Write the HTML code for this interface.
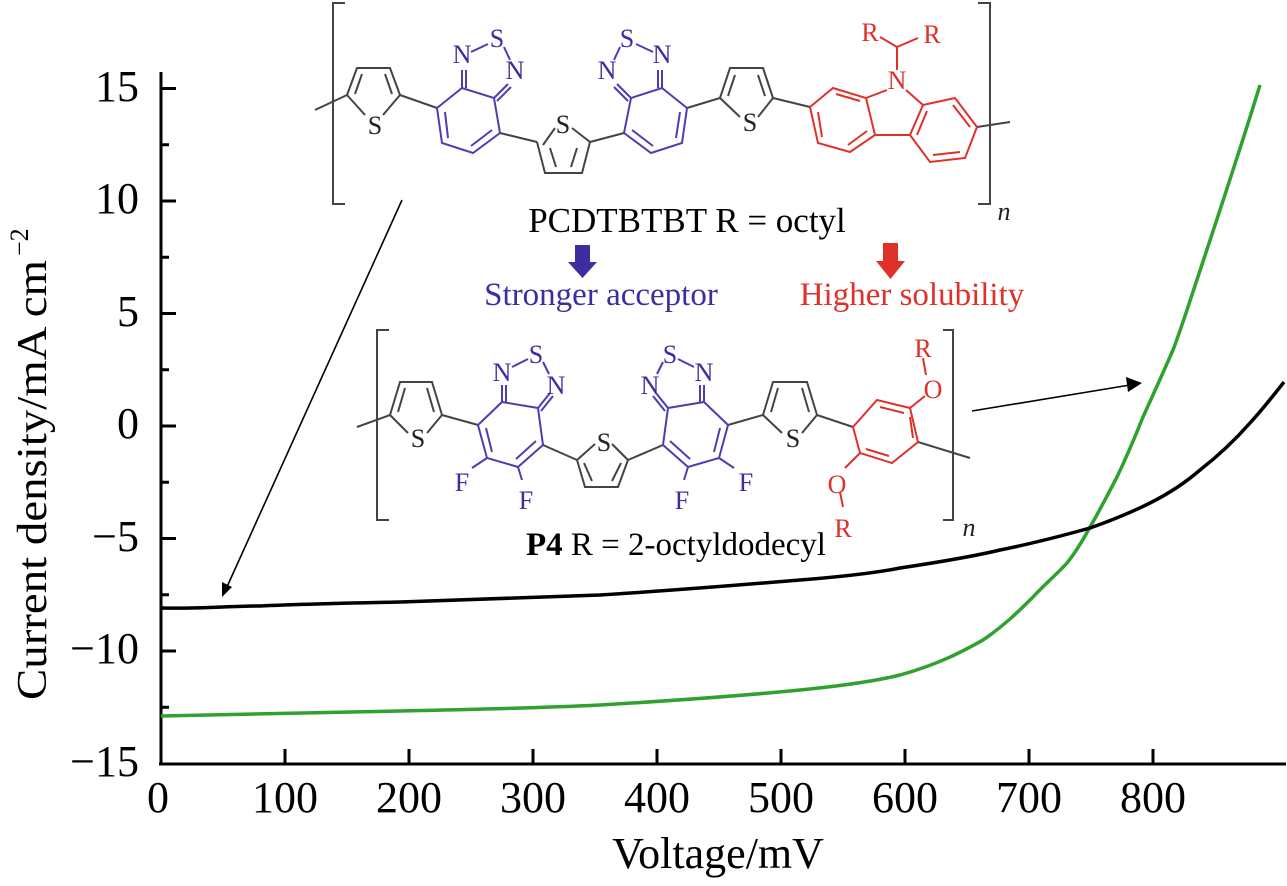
<!DOCTYPE html>
<html><head><meta charset="utf-8"><style>
html,body{margin:0;padding:0;background:#fff;}
svg{display:block;font-family:"Liberation Serif",serif;}
</style></head><body>
<svg width="1287" height="886" viewBox="0 0 1287 886" xmlns="http://www.w3.org/2000/svg">
<g stroke="#000" stroke-width="3" fill="none">
<line x1="161" y1="72" x2="161" y2="765"/>
<line x1="159" y1="764" x2="1286" y2="764"/>
<line x1="161" y1="88.5" x2="176" y2="88.5"/>
<line x1="161" y1="201" x2="176" y2="201"/>
<line x1="161" y1="313.5" x2="176" y2="313.5"/>
<line x1="161" y1="426" x2="176" y2="426"/>
<line x1="161" y1="538.5" x2="176" y2="538.5"/>
<line x1="161" y1="651" x2="176" y2="651"/>
<line x1="161" y1="144.75" x2="169" y2="144.75"/>
<line x1="161" y1="257.25" x2="169" y2="257.25"/>
<line x1="161" y1="369.75" x2="169" y2="369.75"/>
<line x1="161" y1="482.25" x2="169" y2="482.25"/>
<line x1="161" y1="594.75" x2="169" y2="594.75"/>
<line x1="161" y1="707.25" x2="169" y2="707.25"/>
<line x1="285" y1="764" x2="285" y2="749"/>
<line x1="409" y1="764" x2="409" y2="749"/>
<line x1="533" y1="764" x2="533" y2="749"/>
<line x1="657" y1="764" x2="657" y2="749"/>
<line x1="781" y1="764" x2="781" y2="749"/>
<line x1="905" y1="764" x2="905" y2="749"/>
<line x1="1029" y1="764" x2="1029" y2="749"/>
<line x1="1153" y1="764" x2="1153" y2="749"/>
</g>
<g font-size="44" fill="#000" text-anchor="end">
<text x="139" y="101">15</text>
<text x="139" y="213">10</text>
<text x="139" y="326">5</text>
<text x="139" y="438">0</text>
<text x="139" y="551">−5</text>
<text x="139" y="663">−10</text>
<text x="139" y="776">−15</text>
</g>
<g font-size="44" fill="#000" text-anchor="middle">
<text x="158" y="812">0</text>
<text x="285" y="812">100</text>
<text x="409" y="812">200</text>
<text x="533" y="812">300</text>
<text x="657" y="812">400</text>
<text x="781" y="812">500</text>
<text x="905" y="812">600</text>
<text x="1029" y="812">700</text>
<text x="1153" y="812">800</text>
<text x="718" y="868" font-size="44">Voltage/mV</text>
</g>
<g transform="translate(46,418) rotate(-90)">
<text x="-282" y="0" font-size="42" textLength="440" lengthAdjust="spacingAndGlyphs">Current density/mA cm</text>
<text x="162" y="-18" font-size="26">−2</text>
</g>

<path d="M161,716 C260,714 350,712 400,711 C500,709 560,707 600,705 C700,699 760,694 800,690 C850,685 880,680 900,675 C940,664 965,650 983,640 C1005,625 1020,610 1033,597 C1045,584 1057,574 1067,563 C1075,553 1083,540 1090,527 C1100,510 1108,494 1117,477 C1126,458 1135,437 1143,417 C1153,395 1163,373 1173,350 C1178,337 1183,322 1188,307 C1210,240 1237,160 1260,85" stroke="#2ea12e" stroke-width="3.5" fill="none"/>
<path d="M161,608 C200,609 230,606 260,606 C300,604 350,603 400,602 C470,600 540,597 600,595 C680,590 740,585 800,580 C850,576 880,572 900,568 C940,562 975,556 1000,550 C1035,543 1065,535 1090,528 C1110,521 1130,513 1150,503 C1168,494 1185,483 1200,470 C1218,456 1235,440 1250,423 C1262,410 1273,396 1284,382" stroke="#000" stroke-width="3.5" fill="none"/>

<g stroke="#000" stroke-width="1.6" fill="none">
<line x1="402" y1="200" x2="226" y2="589"/>
<line x1="972" y1="411" x2="1130" y2="385"/>
</g>
<polygon points="222,597 222,582 232,587" fill="#000"/>
<polygon points="1142,383 1126,377 1128,392" fill="#000"/>

<g stroke="#444" stroke-width="2" fill="none">
<polyline points="345,3 333,3 333,204 345,204"/>
<polyline points="978,3 990,3 990,204 978,204"/>
<line x1="315" y1="110" x2="347" y2="95"/>
<polyline points="347,95 357,68 390,68 400,95"/>
<line x1="355" y1="94" x2="362" y2="74"/>
<line x1="385" y1="74" x2="392" y2="94"/>
<line x1="347" y1="95" x2="365" y2="115"/><line x1="383" y1="115" x2="400" y2="95"/>
<line x1="400" y1="95" x2="437" y2="108"/>
<line x1="500" y1="133" x2="537" y2="142"/>
<polyline points="537,142 545,173 582,173 590,142"/>
<line x1="543" y1="145" x2="555" y2="128"/><line x1="572" y1="128" x2="590" y2="142"/>
<line x1="550" y1="148" x2="556" y2="167"/><line x1="577" y1="148" x2="571" y2="167"/>
<line x1="590" y1="142" x2="624" y2="133"/>
<line x1="687" y1="108" x2="720" y2="98"/>
<polyline points="720,98 730,68 763,68 773,98"/>
<line x1="728" y1="96" x2="735" y2="75"/><line x1="758" y1="75" x2="765" y2="96"/>
<line x1="720" y1="98" x2="740" y2="117"/><line x1="758" y1="117" x2="773" y2="98"/>
<line x1="773" y1="98" x2="810" y2="107"/>
<line x1="977" y1="127" x2="1010" y2="122"/>
</g>
<g stroke="#4a3fb0" stroke-width="2" fill="none">
<polygon points="437,108 462,88 494,98 500,133 473,153 442,143"/>
<line x1="445" y1="112" x2="448" y2="138"/><line x1="492" y1="130" x2="471" y2="146"/>
<line x1="462" y1="88" x2="462" y2="70"/><line x1="466" y1="88" x2="466" y2="70"/>
<line x1="494" y1="98" x2="508" y2="84"/><line x1="497" y1="101" x2="511" y2="87"/>
<line x1="471" y1="52" x2="488" y2="44"/><line x1="504" y1="47" x2="510" y2="60"/>
<polygon points="624,133 631,98 662,88 687,108 682,143 651,153"/>
<line x1="632" y1="130" x2="653" y2="146"/><line x1="680" y1="112" x2="676" y2="138"/>
<line x1="662" y1="88" x2="662" y2="70"/><line x1="658" y1="88" x2="658" y2="70"/>
<line x1="631" y1="98" x2="617" y2="84"/><line x1="628" y1="101" x2="614" y2="87"/>
<line x1="653" y1="52" x2="636" y2="44"/><line x1="620" y1="47" x2="614" y2="60"/>
</g>
<g stroke="#e0302a" stroke-width="2" fill="none">
<polygon points="810,107 833,88 866,98 875,135 850,152 818,143"/>
<line x1="818" y1="112" x2="822" y2="137"/><line x1="867" y1="131" x2="848" y2="145"/><line x1="836" y1="94" x2="860" y2="101"/>
<polygon points="910,135 923,105 955,98 977,127 965,158 930,162"/>
<line x1="917" y1="135" x2="927" y2="111"/><line x1="953" y1="105" x2="970" y2="127"/><line x1="933" y1="155" x2="960" y2="152"/>
<line x1="875" y1="135" x2="910" y2="135"/>
<line x1="866" y1="98" x2="887" y2="90"/><line x1="906" y1="90" x2="923" y2="105"/>
<line x1="897" y1="70" x2="897" y2="47"/><line x1="897" y1="47" x2="880" y2="37"/><line x1="897" y1="47" x2="918" y2="38"/>
</g>
<g font-size="26" text-anchor="middle">
<text x="375" y="134" fill="#222">S</text>
<text x="563" y="133" fill="#222">S</text>
<text x="750" y="131" fill="#222">S</text>
<g fill="#3a2ea0">
<text x="462" y="63">N</text><text x="497" y="47">S</text><text x="515" y="79">N</text>
<text x="607" y="79">N</text><text x="627" y="47">S</text><text x="662" y="63">N</text>
</g>
<g fill="#e0302a">
<text x="897" y="89">N</text><text x="870" y="41">R</text><text x="932" y="43">R</text>
</g>
<text x="1004" y="220" fill="#222" font-style="italic">n</text>
</g>
<text x="687" y="232" font-size="35" text-anchor="middle">PCDTBTBT R = octyl</text>
<polygon points="575,245 590,245 590,262 597,262 582.5,278 568,262 575,262" fill="#3a2ea0"/>
<polygon points="883,243 898,243 898,261 905,261 890.5,279 876,261 883,261" fill="#e0302a"/>
<text x="601" y="305" font-size="33" text-anchor="middle" fill="#3a2ea0">Stronger acceptor</text>
<text x="912" y="305" font-size="33" text-anchor="middle" fill="#e0302a">Higher solubility</text>

<g stroke="#444" stroke-width="2" fill="none">
<polyline points="389,330 377,330 377,520 389,520"/>
<polyline points="943,330 953,330 953,520 943,520"/>
<line x1="357" y1="427" x2="390" y2="415"/>
<polyline points="390,415 400,382 432,382 442,415"/>
<line x1="398" y1="412" x2="405" y2="388"/><line x1="427" y1="388" x2="434" y2="412"/>
<line x1="390" y1="415" x2="408" y2="433"/><line x1="427" y1="433" x2="442" y2="415"/>
<line x1="442" y1="415" x2="478" y2="425"/>
<line x1="543" y1="445" x2="577" y2="460"/>
<polyline points="577,460 585,487 618,487 628,460"/>
<line x1="584" y1="463" x2="592" y2="481"/><line x1="621" y1="463" x2="612" y2="481"/>
<line x1="577" y1="460" x2="595" y2="444"/><line x1="612" y1="444" x2="628" y2="460"/>
<line x1="628" y1="460" x2="663" y2="445"/>
<line x1="728" y1="425" x2="763" y2="415"/>
<polyline points="763,415 773,382 807,382 817,415"/>
<line x1="771" y1="412" x2="778" y2="388"/><line x1="802" y1="388" x2="809" y2="412"/>
<line x1="763" y1="415" x2="782" y2="433"/><line x1="802" y1="433" x2="817" y2="415"/>
<line x1="817" y1="415" x2="853" y2="427"/>
<line x1="918" y1="442" x2="970" y2="458"/>
</g>
<g stroke="#4a3fb0" stroke-width="2" fill="none">
<polygon points="478,425 502,402 538,408 543,445 518,467 487,458"/>
<line x1="486" y1="428" x2="492" y2="452"/><line x1="536" y1="441" x2="516" y2="459"/>
<line x1="502" y1="402" x2="502" y2="385"/><line x1="506" y1="402" x2="506" y2="385"/>
<line x1="538" y1="408" x2="550" y2="393"/><line x1="541" y1="411" x2="553" y2="396"/>
<line x1="487" y1="458" x2="472" y2="468"/><line x1="518" y1="467" x2="522" y2="480"/>
<line x1="512" y1="367" x2="528" y2="359"/><line x1="543" y1="362" x2="549" y2="374"/>
<polygon points="728,425 704,402 668,408 663,445 688,467 719,458"/>
<line x1="720" y1="428" x2="714" y2="452"/><line x1="670" y1="441" x2="690" y2="459"/>
<line x1="704" y1="402" x2="704" y2="385"/><line x1="700" y1="402" x2="700" y2="385"/>
<line x1="668" y1="408" x2="656" y2="393"/><line x1="665" y1="411" x2="653" y2="396"/>
<line x1="719" y1="458" x2="734" y2="468"/><line x1="688" y1="467" x2="684" y2="480"/>
<line x1="694" y1="367" x2="678" y2="359"/><line x1="663" y1="362" x2="657" y2="374"/>
</g>
<g stroke="#e0302a" stroke-width="2" fill="none">
<polygon points="853,427 877,400 910,408 918,442 892,463 860,453"/>
<line x1="880" y1="407" x2="904" y2="413"/><line x1="910" y1="417" x2="913" y2="438"/><line x1="866" y1="449" x2="889" y2="456"/>
<line x1="910" y1="408" x2="925" y2="396"/><line x1="926" y1="375" x2="923" y2="358"/>
<line x1="860" y1="453" x2="845" y2="468"/><line x1="840" y1="492" x2="843" y2="507"/>
</g>
<g font-size="26" text-anchor="middle">
<text x="418" y="447" fill="#222">S</text>
<text x="604" y="451" fill="#222">S</text>
<text x="793" y="447" fill="#222">S</text>
<g fill="#3a2ea0">
<text x="502" y="381">N</text><text x="536" y="363">S</text><text x="556" y="394">N</text>
<text x="650" y="394">N</text><text x="670" y="363">S</text><text x="704" y="381">N</text>
<text x="462" y="491">F</text><text x="526" y="509">F</text>
<text x="682" y="509">F</text><text x="746" y="491">F</text>
</g>
<g fill="#e0302a">
<text x="933" y="398">O</text><text x="923" y="357">R</text>
<text x="837" y="493">O</text><text x="843" y="537">R</text>
</g>
<text x="969" y="536" fill="#222" font-style="italic">n</text>
</g>
<text x="676" y="555" font-size="33" text-anchor="middle"><tspan font-weight="bold">P4</tspan> R = 2-octyldodecyl</text>
</svg>
</body></html>
